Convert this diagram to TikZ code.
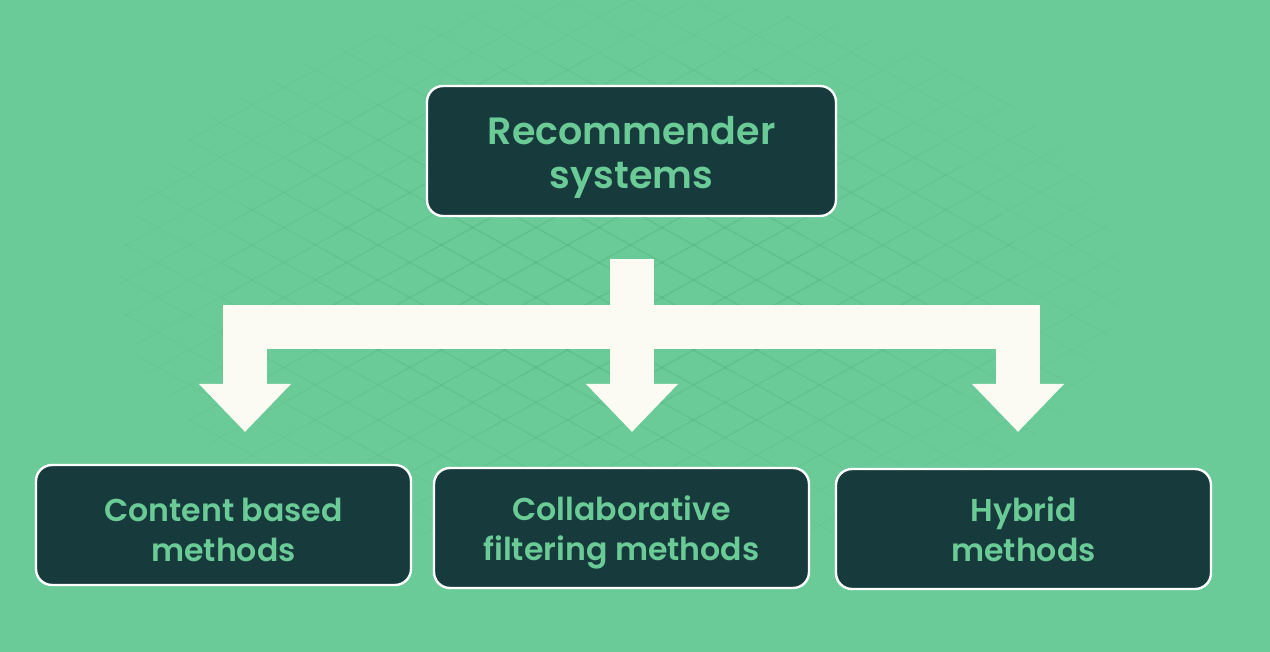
\documentclass[tikz,border=0pt]{standalone}
\usepackage{fontspec}
\setmainfont{Poppins SemiBold}
\usepackage{tikz}
\usetikzlibrary{arrows.meta}

\definecolor{bggreen}{HTML}{6BCB98}
\definecolor{gridgreen}{HTML}{4AA878}
\definecolor{boxteal}{HTML}{173A3D}
\definecolor{txtgreen}{HTML}{6ACB96}
\definecolor{arrowwhite}{HTML}{FBFAF3}

\tikzset{
    topbox/.style={draw=white, line width=1.2pt, fill=boxteal, rounded corners=8pt,
        minimum width=204.5pt, minimum height=65pt},
    subbox/.style={draw=white, line width=1.2pt, fill=boxteal, rounded corners=8pt,
        minimum width=187.5pt, minimum height=60pt},
    toptext/.style={align=center, text=txtgreen, font=\fontsize{19}{22}\selectfont},
    subtext/.style={align=center, text=txtgreen, font=\fontsize{15.8}{20}\selectfont},
    lattice/.style={draw=gridgreen, line width=0.6pt, opacity=0.08},
    band/.style={draw=arrowwhite, line width=22pt, line cap=butt, line join=miter},
    bandtip/.style={band, -{Triangle[length=24pt,width=44.5pt]}}
}

\begin{document}
\begin{tikzpicture}[x=0.5pt,y=-0.5pt]
    % 背景
    \fill[bggreen] (0,0) rectangle (1270,652);
    \useasboundingbox (0,0) rectangle (1270,652);
    \foreach \r in {1,0.8,0.6,0.4}{
        \begin{scope}
            \clip (620,280) ellipse ({500*\r} and {280*\r});
            \foreach \c in {-700,-665,...,700}
                \draw[lattice] (0,\c) -- (1270,\c+705);
            \foreach \c in {0,35,...,1400}
                \draw[lattice] (0,\c) -- (1270,\c-705);
        \end{scope}
    }

    % 方框
    \node[topbox] (rec) at (631.5,151) {};
    \node[subbox] (content) at (223.5,525) {};
    \node[subbox] (collab) at (621.5,528) {};
    \node[subbox] (hybrid) at (1023.5,529) {};

    % 文字
    \node[toptext] (rectext) at ([yshift=-3pt]rec.center) {Recommender\\systems};
    \node[subtext] (contenttext) at ([yshift=-2.5pt]content.center) {Content based\\methods};
    \node[subtext] (collabtext) at ([yshift=-2pt]collab.center) {Collaborative\\filtering methods};
    \node[subtext] (hybridtext) at ([yshift=0pt]hybrid.center) {Hybrid\\methods};

    % 箭头
    \coordinate (stemtop) at (632,259);
    \coordinate (hub) at (632,327);
    \coordinate (tipA) at (245,432);
    \coordinate (tipB) at (632,432);
    \coordinate (tipC) at (1018,432);

    \draw[band] (stemtop) -- (hub);
    \draw[bandtip] (hub) -| (tipA);
    \draw[bandtip] (hub) -- (tipB);
    \draw[bandtip] (hub) -| (tipC);

\end{tikzpicture}
\end{document}
